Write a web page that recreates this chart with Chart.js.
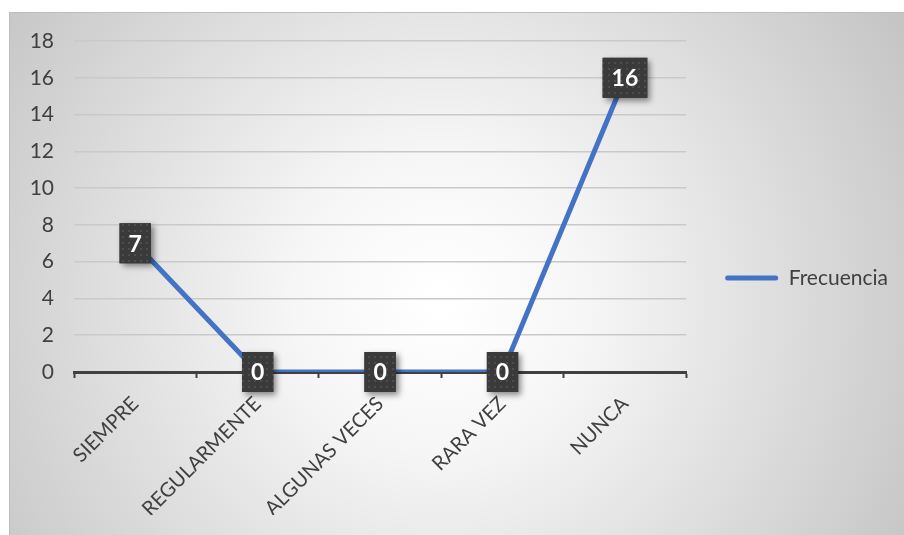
<!DOCTYPE html>
<html>
<head>
<meta charset="utf-8">
<script src="https://cdn.jsdelivr.net/npm/chart.js@4/dist/chart.umd.min.js"></script>
<style>
    html, body { margin: 0; padding: 0; background: #fff; }
    #wrap { width: 904px; height: 535px; }
</style>
</head>
<body>
<div id="wrap"><canvas id="chart" width="904" height="535"></canvas></div>
<script>
const categories = ['SIEMPRE', 'REGULARMENTE', 'ALGUNAS VECES', 'RARA VEZ', 'NUNCA'];
const frecuencia = [7, 0, 0, 0, 16];
const yTicks = [0, 2, 4, 6, 8, 10, 12, 14, 16, 18];

const COLORS = {
    LINE: '#4472C4',
    TEXT: '#404040',
    GRID: '#c9c9c9',
    AXIS: '#404040',
    LABEL_BOX: '#3a3a3a'
};

const FONT = 'Lato, "Open Sans", sans-serif';

// gray radial background + frame
const backgroundPlugin = {
    id: 'background',
    beforeDraw(chart) {
        const { ctx, width, height } = chart;
        ctx.save();
        ctx.fillStyle = '#fff';
        ctx.fillRect(0, 0, width, height);
        const g = ctx.createRadialGradient(440, 300, 10, 440, 300, 560);
        g.addColorStop(0, '#ffffff');
        g.addColorStop(0.25, '#f6f6f6');
        g.addColorStop(1, '#c2c2c2');
        ctx.fillStyle = g;
        ctx.fillRect(9, 12, width - 9, height - 12);
        ctx.strokeStyle = '#bdbdbd';
        ctx.lineWidth = 1;
        ctx.beginPath();
        ctx.moveTo(9.5, height);
        ctx.lineTo(9.5, 12.5);
        ctx.lineTo(width, 12.5);
        ctx.stroke();
        ctx.restore();
    }
};

// dark boxed data labels on every point
const boxLabelsPlugin = {
    id: 'boxLabels',
    afterDatasetsDraw(chart) {
        const { ctx } = chart;
        const meta = chart.getDatasetMeta(0);
        const values = chart.data.datasets[0].data;

        const pat = document.createElement('canvas');
        pat.width = 6;
        pat.height = 6;
        const pctx = pat.getContext('2d');
        pctx.fillStyle = COLORS.LABEL_BOX;
        pctx.fillRect(0, 0, 6, 6);
        pctx.fillStyle = '#4d4d4d';
        pctx.fillRect(2, 2, 2, 2);
        const pattern = ctx.createPattern(pat, 'repeat');

        ctx.save();
        ctx.font = `bold 23px ${FONT}`;
        ctx.textAlign = 'center';
        ctx.textBaseline = 'middle';
        meta.data.forEach((pt, i) => {
            const text = String(values[i]);
            const w = ctx.measureText(text).width + 18;
            const h = 40;
            const x = pt.x - w / 2;
            const y = pt.y - h / 2;

            ctx.save();
            ctx.shadowColor = 'rgba(0, 0, 0, 0.45)';
            ctx.shadowBlur = 6;
            ctx.shadowOffsetX = 3;
            ctx.shadowOffsetY = 3;
            ctx.fillStyle = COLORS.LABEL_BOX;
            ctx.fillRect(x, y, w, h);
            ctx.restore();

            ctx.fillStyle = pattern;
            ctx.fillRect(x, y, w, h);

            ctx.fillStyle = '#fff';
            ctx.fillText(text, pt.x, pt.y + 1);
        });
        ctx.restore();
    }
};

const ctx = document.getElementById('chart').getContext('2d');

new Chart(ctx, {
    type: 'line',
    data: {
        labels: categories,
        datasets: [
            {
                label: 'Frecuencia',
                data: frecuencia,
                borderColor: COLORS.LINE,
                backgroundColor: COLORS.LINE,
                borderWidth: 5,
                pointRadius: 0,
                tension: 0,
                fill: false
            }
        ]
    },
    options: {
        responsive: false,
        animation: false,
        devicePixelRatio: 1,
        layout: {
            padding: { left: 9, top: 41, right: 6, bottom: 20 }
        },
        scales: {
            x: {
                offset: true,
                grid: {
                    offset: true,
                    drawOnChartArea: false,
                    drawTicks: true,
                    tickLength: 6,
                    tickWidth: 2,
                    color: COLORS.AXIS
                },
                border: { display: true, color: COLORS.AXIS, width: 3 },
                ticks: {
                    color: COLORS.TEXT,
                    font: { family: FONT, size: 20 },
                    maxRotation: 45,
                    minRotation: 45,
                    padding: 14
                },
                afterFit: scale => { scale.height = 143; }
            },
            y: {
                min: 0,
                max: 18,
                afterBuildTicks: scale => {
                    scale.ticks = yTicks.map(v => ({ value: v }));
                },
                grid: {
                    color: ctx2 => ctx2.tick.value === 0 ? 'rgba(0,0,0,0)' : COLORS.GRID,
                    lineWidth: 1.5,
                    drawTicks: false
                },
                border: { display: false },
                ticks: {
                    color: COLORS.TEXT,
                    font: { family: FONT, size: 21 },
                    padding: 20
                },
                afterFit: scale => { scale.width = 65; }
            }
        },
        plugins: {
            legend: {
                position: 'right',
                labels: {
                    color: COLORS.TEXT,
                    font: { family: FONT, size: 21 },
                    boxWidth: 53,
                    boxHeight: 5,
                    padding: 39,
                    generateLabels: chart => chart.data.datasets.map((ds, i) => ({
                        text: ds.label,
                        fillStyle: ds.borderColor,
                        strokeStyle: ds.borderColor,
                        lineWidth: 0,
                        borderRadius: 2.5,
                        fontColor: COLORS.TEXT,
                        datasetIndex: i
                    }))
                }
            },
            tooltip: { enabled: false }
        }
    },
    plugins: [backgroundPlugin, boxLabelsPlugin]
});
</script>
</body>
</html>
